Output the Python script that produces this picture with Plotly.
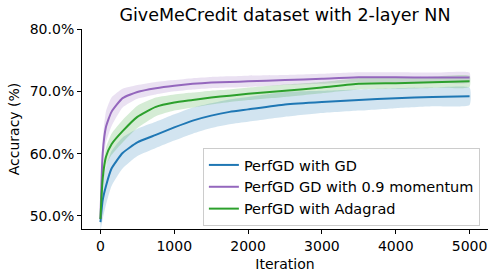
import plotly.graph_objects as go

iterations = [0, 30, 75, 150, 300, 500, 750, 1000, 1250, 1500, 1750, 2000, 2500, 3000, 3500, 4000, 4500, 5000]

gd_mean = [49.0, 52.5, 54.8, 57.6, 60.1, 61.8, 63.0, 64.2, 65.3, 66.1, 66.7, 67.1, 67.9, 68.3, 68.6, 68.9, 69.1, 69.2]
gd_std = [1.5, 3.0, 3.0, 2.8, 2.5, 2.2, 2.1, 2.1, 2.1, 2.0, 2.0, 2.0, 2.0, 1.8, 1.7, 1.6, 1.5, 1.4]

mom_mean = [49.5, 60.0, 64.3, 66.7, 68.9, 69.9, 70.5, 70.9, 71.2, 71.4, 71.5, 71.6, 71.8, 72.0, 72.25, 72.25, 72.2, 72.2]
mom_std = [1.0, 2.0, 2.5, 2.3, 1.5, 1.1, 1.0, 0.9, 0.9, 0.9, 0.9, 0.9, 0.8, 0.8, 0.8, 0.8, 0.8, 0.8]

ada_mean = [49.5, 56.0, 59.5, 61.5, 63.6, 65.9, 67.5, 68.2, 68.6, 69.0, 69.3, 69.6, 70.1, 70.6, 71.2, 71.3, 71.45, 71.6]
ada_std = [1.0, 1.5, 1.5, 1.7, 1.8, 1.8, 1.5, 1.3, 1.2, 1.1, 1.0, 1.0, 1.0, 0.9, 0.9, 0.9, 0.9, 0.9]

series = [
    ("PerfGD with GD", gd_mean, gd_std, "31,119,180"),
    ("PerfGD GD with 0.9 momentum", mom_mean, mom_std, "148,103,189"),
    ("PerfGD with Adagrad", ada_mean, ada_std, "44,160,44"),
]

fig = go.Figure()
for name, m, s, rgb in series:
    up = [(a + b) / 100 for a, b in zip(m, s)]
    lo = [(a - b) / 100 for a, b in zip(m, s)]
    fig.add_trace(go.Scatter(
        x=iterations + iterations[::-1], y=up + lo[::-1],
        fill="toself", fillcolor=f"rgba({rgb},0.2)", line=dict(width=0, shape="spline", smoothing=0.5),
        mode="lines", showlegend=False, hoverinfo="skip"))
for name, m, s, rgb in series:
    fig.add_trace(go.Scatter(
        x=iterations, y=[v / 100 for v in m], mode="lines", name=name,
        line=dict(color=f"rgb({rgb})", width=2, shape="spline", smoothing=0.5)))

fig.update_layout(
    width=494, height=277,
    margin=dict(l=82, r=6, t=29, b=48),
    paper_bgcolor="white", plot_bgcolor="white",
    font=dict(family="DejaVu Sans", size=14, color="black"),
    title=dict(text="GiveMeCredit dataset with 2-layer NN", x=0.5, xref="paper", xanchor="center",
               y=0.948, yanchor="middle", font=dict(size=17.5)),
    legend=dict(x=0.98, y=0.015, xanchor="right", yanchor="bottom",
                bgcolor="rgba(255,255,255,0.8)", bordercolor="#cccccc", borderwidth=1,
                font=dict(size=14.5), tracegroupgap=0),
    xaxis=dict(range=[-250, 5250], tickvals=[0, 1000, 2000, 3000, 4000, 5000],
               showgrid=False, zeroline=False, showline=True, linecolor="black", linewidth=1,
               ticks="outside", ticklen=4, tickcolor="black", tickfont=dict(size=14),
               title=dict(text="Iteration", standoff=6, font=dict(size=14))),
    yaxis=dict(range=[0.479, 0.80], tickvals=[0.5, 0.6, 0.7, 0.8], tickformat=".1%",
               showgrid=False, zeroline=False, showline=True, linecolor="black", linewidth=1,
               ticks="outside", ticklen=4, tickcolor="black", tickfont=dict(size=14),
               title=dict(text="Accuracy (%)", standoff=6, font=dict(size=14))),
)

fig.write_html("out.html")
